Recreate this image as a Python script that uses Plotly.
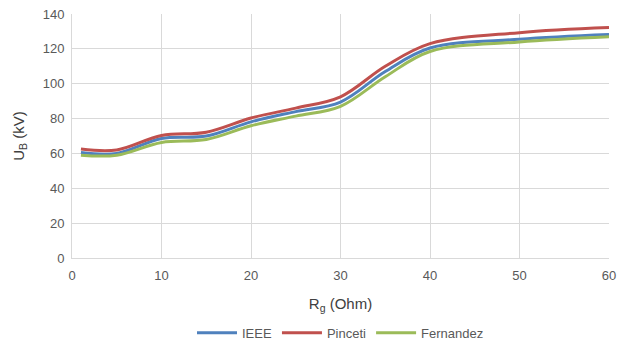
import plotly.graph_objects as go

# Grounding resistance (Ohm) and breakdown voltage (kV) per model
rg = [1, 5, 10, 15, 20, 25, 30, 35, 40, 50, 60]
ieee = [60.5, 60.0, 68.6, 70.0, 78.1, 84.0, 89.5, 107.0, 120.5, 125.5, 128.2]
pinceti = [62.5, 62.0, 70.3, 72.2, 80.3, 86.0, 92.5, 110.0, 123.0, 129.3, 132.2]
fernandez = [59.0, 59.0, 66.3, 68.0, 75.9, 81.4, 87.0, 104.0, 118.5, 124.0, 127.0]

series = [
    ("IEEE", ieee, "#4F81BD"),
    ("Pinceti", pinceti, "#C0504D"),
    ("Fernandez", fernandez, "#9BBB59"),
]

fig = go.Figure()
for name, vals, color in series:
    fig.add_trace(go.Scatter(
        x=rg, y=vals, name=name, mode="lines",
        line=dict(color=color, width=3, shape="spline", smoothing=1.0),
    ))

tick_font = dict(family="Liberation Sans, Arial, sans-serif", size=13, color="#595959")
title_font = dict(family="Liberation Sans, Arial, sans-serif", size=15, color="#404040")

fig.update_layout(
    width=619, height=344,
    margin=dict(l=72, r=10, t=14, b=86, autoexpand=False),
    paper_bgcolor="white", plot_bgcolor="white",
    showlegend=True,
    legend=dict(orientation="h", x=0.5, xanchor="center", y=-0.307, yanchor="middle",
                font=dict(family="Liberation Sans, Arial, sans-serif", size=13, color="#595959"),
                itemwidth=40, tracegroupgap=0),
    xaxis=dict(range=[0, 60], dtick=10, tick0=0,
               showgrid=True, gridcolor="#D9D9D9", gridwidth=1,
               showline=True, linecolor="#D9D9D9", linewidth=1,
               zeroline=False, ticks="", tickfont=tick_font, ticklabelstandoff=5,
               title=dict(text="R<sub>g</sub> (Ohm)", font=title_font, standoff=16)),
    yaxis=dict(range=[0, 140], dtick=20, tick0=0,
               showgrid=True, gridcolor="#D9D9D9", gridwidth=1,
               showline=True, linecolor="#D9D9D9", linewidth=1,
               zeroline=False, ticks="", tickfont=tick_font, ticklabelstandoff=4,
               title=dict(text="U<sub>B</sub> (kV)", font=title_font, standoff=14)),
)

fig.write_html("out.html")
